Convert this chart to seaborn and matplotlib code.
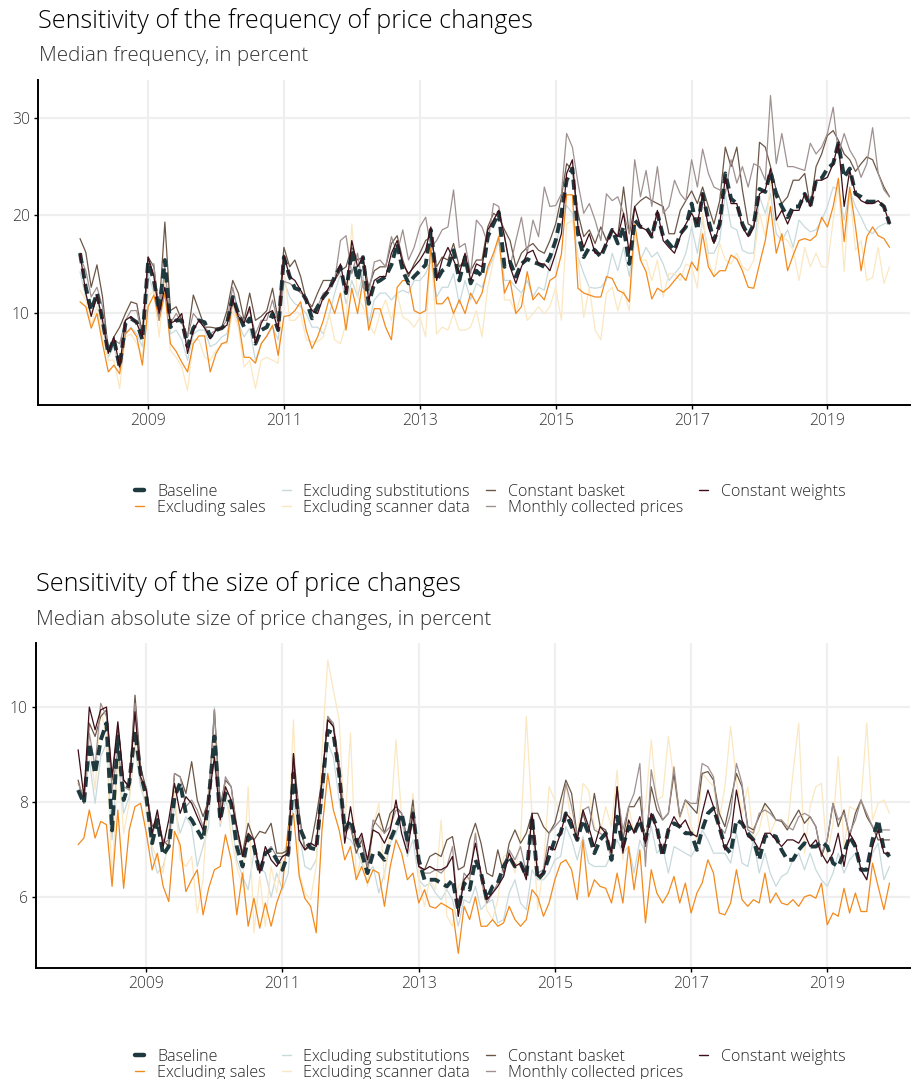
import pandas as pd
import matplotlib.pyplot as plt
import seaborn as sns
from matplotlib.lines import Line2D

# Thang: 2008-01 .. 2019-12
dates = pd.date_range("2008-01-01", periods=144, freq="MS")

series_names = ["Baseline", "Excluding sales", "Excluding substitutions",
                "Excluding scanner data", "Constant basket",
                "Monthly collected prices", "Constant weights"]

# ---- Tan suat thay doi gia (median, %) ----
freq_baseline = [
    16.1, 12.6, 10.2, 12.0, 9.2, 5.8, 7.3, 4.4, 8.9, 9.4, 9.0, 7.2,
    15.2, 13.3, 10.2, 15.4, 8.5, 9.2, 9.2, 6.5, 8.4, 9.2, 9.0, 7.5,
    8.2, 8.4, 8.9, 11.6, 9.9, 8.5, 9.4, 6.8, 8.2, 8.5, 9.9, 8.2,
    15.7, 13.7, 12.5, 12.3, 11.3, 9.4, 10.6, 11.6, 12.3, 13.7, 14.7, 12.0,
    16.4, 13.3, 15.7, 10.9, 13.0, 13.3, 13.7, 14.9, 17.1, 14.3, 13.0, 13.7,
    14.3, 14.9, 18.5, 13.3, 14.3, 14.7, 16.4, 13.3, 15.7, 13.0, 14.3, 13.7,
    17.8, 19.1, 20.3, 14.7, 15.2, 13.7, 15.0, 15.5, 15.2, 15.0, 14.7, 15.7,
    17.4, 20.2, 23.6, 24.8, 18.1, 15.7, 16.7, 16.4, 15.7, 17.1, 18.5, 17.1,
    18.8, 15.0, 19.5, 18.8, 18.8, 17.8, 20.2, 17.8, 17.1, 16.4, 18.1, 18.8,
    21.2, 18.5, 22.2, 19.5, 17.4, 19.1, 24.3, 21.7, 21.2, 19.1, 17.9, 19.1,
    22.7, 22.4, 24.5, 22.1, 20.9, 19.8, 20.9, 20.9, 22.2, 20.9, 23.6, 23.8,
    24.8, 25.3, 27.4, 23.9, 24.8, 22.2, 21.9, 21.4, 21.4, 21.4, 20.9, 19.1]
freq_sales = [
    11.1, 10.6, 8.4, 9.9, 6.8, 3.9, 4.6, 3.7, 7.8, 8.4, 7.5, 4.6,
    10.6, 11.8, 9.2, 12.0, 6.8, 6.0, 4.9, 3.9, 6.8, 7.6, 7.6, 3.9,
    5.8, 6.8, 7.0, 11.3, 9.2, 5.4, 5.4, 4.8, 6.8, 7.6, 8.7, 5.6,
    9.6, 9.7, 10.2, 11.1, 8.2, 6.3, 7.5, 9.2, 11.4, 9.9, 12.0, 8.2,
    12.5, 9.9, 13.3, 8.2, 10.4, 10.4, 8.5, 7.2, 12.6, 13.3, 13.3, 10.2,
    9.9, 10.2, 16.7, 10.9, 10.9, 11.6, 9.9, 11.3, 9.9, 12.0, 10.9, 12.0,
    14.7, 16.1, 17.8, 12.0, 13.3, 9.9, 10.6, 14.2, 11.3, 12.0, 11.3, 13.3,
    13.7, 16.0, 22.1, 22.1, 12.5, 12.0, 11.8, 11.6, 11.6, 13.7, 13.5, 12.3,
    12.0, 11.1, 19.1, 15.4, 14.2, 11.4, 12.5, 12.1, 12.6, 13.3, 14.0, 13.3,
    15.2, 14.3, 18.1, 14.7, 13.7, 14.3, 14.3, 15.9, 15.5, 14.3, 12.6, 12.5,
    15.0, 17.4, 20.9, 16.1, 18.1, 14.3, 15.9, 17.4, 17.6, 17.4, 17.9, 19.8,
    18.8, 20.9, 23.8, 17.3, 22.9, 18.8, 14.3, 17.8, 18.8, 17.9, 17.6, 16.7]
freq_subst = [
    14.2, 11.6, 9.9, 11.6, 8.5, 5.4, 6.5, 4.1, 7.8, 8.5, 7.8, 6.5,
    14.0, 12.0, 9.9, 13.7, 7.8, 8.2, 7.2, 5.1, 7.8, 8.2, 8.2, 6.5,
    6.8, 7.5, 7.8, 10.9, 8.9, 7.5, 8.4, 5.1, 6.8, 7.5, 8.5, 7.2,
    13.3, 11.6, 10.9, 10.6, 9.9, 8.5, 8.5, 7.8, 9.7, 12.0, 14.0, 10.9,
    13.3, 11.6, 14.0, 8.9, 11.3, 12.0, 12.0, 11.3, 12.0, 12.3, 12.0, 13.3,
    13.3, 14.0, 15.4, 11.6, 12.6, 12.6, 14.0, 10.9, 13.3, 11.3, 13.0, 12.6,
    14.3, 15.7, 17.4, 13.3, 13.3, 12.6, 12.0, 13.3, 11.6, 12.6, 12.3, 15.0,
    17.1, 19.1, 21.0, 20.2, 15.7, 14.0, 12.6, 12.5, 12.6, 13.3, 16.1, 14.3,
    16.7, 13.7, 18.1, 15.4, 16.7, 15.7, 16.2, 15.0, 13.3, 14.0, 14.7, 16.1,
    18.8, 16.1, 19.5, 16.1, 16.1, 17.4, 22.2, 18.8, 18.5, 16.4, 16.1, 16.1,
    21.9, 20.2, 22.2, 18.1, 17.4, 18.5, 16.7, 19.5, 18.8, 18.3, 18.5, 19.5,
    20.9, 22.9, 22.6, 19.5, 22.6, 20.9, 19.8, 18.5, 18.1, 18.8, 19.1, 19.3]
freq_scanner = [
    12.3, 11.3, 8.7, 10.6, 7.5, 5.1, 5.1, 2.2, 7.5, 7.8, 6.8, 5.4,
    11.6, 12.3, 7.5, 13.3, 6.1, 5.4, 4.4, 2.0, 7.2, 7.2, 5.4, 5.1,
    6.1, 6.8, 6.8, 10.2, 8.5, 4.4, 5.1, 2.2, 5.1, 5.4, 5.1, 4.8,
    14.7, 9.2, 9.2, 9.9, 7.2, 7.0, 7.0, 7.5, 9.9, 7.2, 6.8, 8.9,
    19.1, 11.6, 10.6, 8.9, 7.8, 9.9, 11.3, 9.2, 12.0, 9.5, 9.2, 8.5,
    9.5, 7.5, 16.7, 7.8, 8.5, 8.2, 9.9, 8.2, 8.2, 8.5, 10.2, 7.5,
    12.6, 15.4, 18.1, 11.3, 11.3, 9.9, 12.0, 9.2, 9.9, 10.6, 9.9, 10.6,
    12.6, 9.2, 19.1, 19.5, 15.4, 9.5, 12.6, 8.2, 7.2, 12.0, 12.6, 10.2,
    12.3, 10.2, 18.1, 15.4, 15.4, 13.3, 15.4, 11.6, 14.0, 14.0, 13.3, 15.0,
    14.7, 12.5, 20.2, 15.4, 13.7, 17.1, 15.4, 15.0, 16.1, 14.7, 14.3, 15.4,
    20.2, 17.8, 23.6, 19.5, 17.8, 17.4, 16.4, 13.3, 16.7, 14.7, 16.1, 14.7,
    14.7, 19.5, 23.3, 14.2, 22.6, 16.4, 17.4, 13.3, 13.6, 16.7, 13.0, 14.7]
freq_basket = [
    17.6, 16.2, 12.6, 14.9, 11.6, 6.1, 7.5, 8.5, 9.9, 11.1, 10.9, 7.8,
    15.7, 14.7, 10.2, 19.3, 10.2, 10.6, 9.2, 7.5, 11.8, 10.2, 8.5, 8.5,
    8.4, 8.5, 10.2, 13.3, 12.0, 9.2, 12.0, 9.2, 9.6, 10.2, 12.5, 9.2,
    16.7, 14.7, 15.4, 13.7, 11.3, 10.6, 12.0, 13.3, 13.3, 13.3, 14.3, 14.7,
    16.7, 15.4, 15.7, 12.6, 14.3, 14.7, 14.7, 17.1, 17.9, 15.4, 13.7, 15.0,
    16.1, 17.4, 17.8, 14.7, 15.7, 15.4, 17.1, 14.7, 15.4, 14.3, 15.4, 15.4,
    18.8, 20.2, 19.8, 18.5, 17.4, 14.7, 16.1, 16.7, 17.1, 16.4, 16.1, 17.4,
    19.1, 21.9, 25.3, 24.6, 20.2, 17.8, 18.5, 17.1, 18.8, 17.4, 18.5, 17.8,
    22.9, 18.1, 20.9, 21.5, 21.9, 21.5, 21.2, 20.9, 18.1, 18.1, 20.5, 21.5,
    22.5, 21.2, 22.9, 20.9, 19.1, 21.5, 27.0, 25.0, 27.0, 22.6, 19.1, 18.8,
    27.5, 27.0, 25.0, 22.6, 21.2, 21.9, 23.6, 23.6, 24.3, 20.9, 25.0, 26.3,
    28.2, 28.7, 27.7, 26.3, 25.7, 24.5, 25.3, 26.0, 25.7, 24.3, 22.9, 21.9]
freq_monthly = [
    15.7, 14.3, 11.6, 12.6, 10.6, 6.1, 7.2, 6.8, 9.2, 10.2, 10.2, 7.5,
    15.0, 15.0, 9.2, 14.7, 8.9, 9.9, 8.9, 7.5, 9.9, 9.2, 8.5, 7.8,
    8.2, 8.5, 9.2, 12.6, 9.9, 9.2, 10.2, 7.8, 9.2, 9.2, 11.3, 8.9,
    13.2, 13.0, 12.6, 12.0, 11.6, 10.2, 10.6, 12.0, 12.3, 13.3, 17.4, 17.9,
    14.0, 16.1, 12.6, 12.0, 15.2, 15.4, 14.7, 17.8, 16.1, 18.5, 15.4, 16.7,
    18.8, 19.8, 16.7, 17.4, 18.5, 18.8, 22.6, 16.7, 17.1, 14.0, 19.5, 18.8,
    17.1, 21.2, 20.9, 17.8, 14.7, 17.4, 19.8, 16.1, 19.5, 17.8, 22.9, 20.9,
    21.0, 22.2, 28.4, 27.0, 23.3, 20.2, 21.2, 19.5, 17.4, 22.2, 21.5, 21.9,
    20.2, 18.1, 25.7, 21.9, 24.6, 20.9, 25.0, 20.2, 20.9, 23.6, 22.2, 21.5,
    25.7, 22.9, 26.8, 24.3, 22.9, 22.6, 22.2, 25.7, 23.3, 25.0, 22.9, 25.3,
    25.0, 23.6, 32.3, 25.3, 28.4, 25.0, 25.0, 24.8, 24.6, 27.4, 26.3, 27.0,
    28.4, 31.1, 26.3, 28.4, 26.7, 25.7, 23.9, 25.3, 29.0, 24.3, 22.6, 21.9]
freq_weights = [
    16.1, 12.0, 9.6, 11.8, 9.2, 5.8, 7.5, 4.4, 9.2, 9.6, 8.9, 7.5,
    15.7, 13.7, 9.9, 12.6, 8.9, 9.2, 9.9, 5.8, 8.2, 9.2, 8.4, 7.3,
    8.2, 8.4, 8.7, 11.4, 9.6, 8.9, 10.6, 6.8, 8.9, 9.9, 10.2, 8.2,
    15.9, 13.7, 13.3, 12.3, 11.3, 10.2, 9.9, 11.6, 12.6, 13.3, 15.0, 12.0,
    17.4, 14.7, 15.7, 11.3, 13.3, 13.7, 13.7, 16.1, 17.4, 15.0, 14.0, 14.7,
    15.4, 16.4, 18.8, 13.3, 15.4, 16.7, 15.4, 14.0, 16.1, 13.3, 15.0, 14.7,
    18.5, 19.5, 20.5, 17.8, 14.7, 13.0, 14.7, 16.1, 16.4, 15.0, 15.0, 14.3,
    16.1, 18.1, 24.3, 25.7, 18.8, 16.7, 18.1, 16.1, 16.1, 17.1, 18.5, 17.8,
    20.2, 16.1, 20.9, 18.8, 18.5, 17.8, 20.5, 17.4, 16.7, 16.1, 17.8, 19.1,
    20.2, 19.1, 22.2, 18.8, 17.1, 19.1, 23.9, 21.2, 21.2, 18.8, 17.8, 18.8,
    22.2, 22.6, 24.8, 19.5, 20.5, 19.1, 20.5, 20.5, 22.2, 20.9, 23.6, 23.6,
    23.9, 25.3, 27.4, 20.9, 24.6, 22.2, 21.5, 21.2, 21.2, 21.5, 20.9, 19.1]

# ---- Do lon thay doi gia (median tuyet doi, %) ----
size_baseline = [
    8.25, 7.97, 9.24, 8.6, 9.3, 9.66, 7.4, 9.38, 8.04, 8.4, 9.5, 8.6,
    8.1, 7.13, 7.62, 6.88, 7.06, 8.1, 8.4, 7.76, 7.62, 7.41, 7.2, 8.04,
    9.38, 7.62, 8.18, 7.97, 7.06, 6.64, 7.27, 7.06, 6.5, 6.92, 6.99, 6.78,
    6.57, 6.92, 8.6, 7.48, 7.2, 7.03, 7.0, 8.25, 9.5, 9.45, 8.6, 7.41,
    7.62, 7.2, 6.92, 6.5, 6.92, 6.92, 6.78, 7.2, 7.48, 7.76, 7.2, 7.76,
    6.78, 6.36, 6.36, 6.36, 6.29, 6.22, 6.36, 5.73, 6.29, 6.15, 6.78, 6.5,
    5.94, 6.22, 6.29, 6.64, 6.85, 6.64, 6.71, 6.43, 7.69, 6.36, 6.5, 6.85,
    7.2, 7.34, 7.76, 7.48, 7.2, 7.62, 7.34, 6.92, 7.2, 7.34, 6.78, 7.69,
    7.06, 7.48, 7.34, 7.62, 7.2, 7.76, 7.48, 6.85, 7.41, 7.55, 7.48, 7.34,
    7.34, 6.99, 7.41, 7.76, 7.87, 7.48, 7.06, 6.92, 7.62, 7.55, 7.34, 7.2,
    6.78, 7.27, 7.31, 7.27, 6.99, 6.78, 6.78, 6.99, 7.13, 7.06, 7.06, 7.16,
    7.06, 6.71, 6.64, 6.92, 7.27, 7.06, 6.57, 6.57, 7.2, 7.62, 6.99, 6.85]
size_sales = [
    7.1, 7.24, 7.83, 7.24, 7.59, 7.52, 6.22, 7.83, 6.18, 7.41, 7.9, 7.97,
    7.34, 6.57, 6.92, 6.22, 5.9, 7.38, 7.1, 6.11, 6.36, 6.57, 5.62, 6.18,
    6.57, 6.64, 7.31, 6.78, 5.62, 6.5, 5.38, 5.97, 5.34, 5.87, 5.38, 5.87,
    6.22, 7.48, 7.76, 6.43, 5.97, 5.8, 5.24, 7.41, 8.6, 7.83, 7.41, 6.78,
    7.06, 6.36, 6.64, 6.29, 6.57, 6.5, 5.8, 6.64, 7.2, 6.92, 6.36, 6.5,
    5.87, 6.15, 5.8, 5.76, 5.87, 5.8, 5.73, 4.81, 5.8, 5.52, 6.0, 5.38,
    5.38, 5.52, 5.38, 5.45, 5.8, 5.52, 5.38, 5.52, 6.15, 6.0, 5.59, 5.87,
    6.36, 6.71, 6.78, 6.57, 5.94, 7.2, 6.0, 6.36, 6.22, 6.18, 5.87, 6.5,
    5.87, 7.06, 6.15, 6.99, 5.45, 6.57, 6.08, 5.87, 6.08, 6.43, 5.87, 6.29,
    5.66, 6.08, 6.29, 6.78, 6.5, 5.66, 5.62, 5.87, 6.57, 5.94, 5.8, 5.94,
    5.87, 6.5, 5.87, 6.08, 5.87, 5.83, 5.94, 5.8, 6.0, 6.04, 5.97, 6.29,
    5.41, 5.66, 5.59, 6.18, 5.66, 6.08, 5.69, 5.69, 6.71, 6.22, 5.73, 6.29]
size_subst = [
    8.25, 8.04, 8.88, 7.97, 8.95, 9.24, 7.2, 9.1, 7.76, 8.11, 9.17, 8.32,
    7.9, 6.92, 6.5, 6.64, 7.13, 7.9, 7.34, 7.69, 7.48, 6.64, 7.06, 7.48,
    10.0, 7.48, 8.04, 7.69, 6.78, 6.43, 6.15, 6.92, 6.64, 6.5, 5.99, 6.5,
    6.15, 6.5, 8.04, 7.34, 6.64, 6.57, 6.78, 7.97, 9.24, 8.95, 8.04, 7.27,
    7.2, 6.99, 6.71, 6.5, 6.64, 6.08, 6.5, 7.13, 7.34, 7.69, 6.85, 7.2,
    6.36, 6.22, 6.29, 6.08, 5.94, 6.15, 5.94, 5.38, 5.94, 5.87, 6.22, 5.73,
    5.87, 5.94, 5.45, 5.52, 6.08, 6.36, 5.87, 5.73, 6.57, 6.36, 6.36, 6.5,
    6.78, 6.85, 7.48, 7.2, 6.78, 7.27, 6.71, 6.64, 6.64, 6.64, 6.92, 7.2,
    6.92, 7.06, 6.5, 7.2, 6.92, 7.48, 6.92, 7.06, 6.5, 7.06, 6.99, 6.92,
    6.85, 7.06, 7.41, 7.2, 6.92, 6.92, 6.92, 6.71, 7.34, 6.71, 6.64, 7.2,
    6.5, 6.92, 6.5, 6.22, 6.43, 6.5, 6.78, 6.92, 6.57, 6.92, 6.57, 6.36,
    6.22, 6.5, 6.92, 6.5, 6.78, 6.92, 6.57, 6.36, 6.92, 7.13, 6.36, 6.64]
size_scanner = [
    8.46, 8.04, 9.31, 8.25, 9.94, 9.38, 6.29, 8.95, 7.34, 7.97, 9.24, 8.46,
    7.9, 7.06, 6.78, 6.5, 7.34, 8.25, 6.78, 6.64, 6.85, 5.66, 6.36, 8.32,
    9.38, 7.55, 8.39, 7.27, 6.64, 6.22, 8.32, 5.24, 6.43, 5.38, 6.64, 6.08,
    6.92, 7.13, 9.73, 6.5, 6.08, 5.94, 6.64, 9.1, 10.99, 10.36, 9.73, 7.41,
    9.45, 6.36, 6.92, 6.22, 7.48, 7.97, 6.36, 7.48, 9.31, 7.69, 7.2, 8.18,
    6.36, 5.8, 6.36, 6.15, 7.62, 5.59, 5.38, 6.22, 6.36, 6.36, 7.34, 6.36,
    5.73, 5.52, 5.94, 6.85, 6.92, 6.5, 7.2, 9.8, 7.69, 5.73, 6.64, 8.32,
    8.04, 7.76, 8.39, 7.48, 7.2, 8.39, 8.25, 7.48, 7.34, 7.9, 7.48, 8.67,
    6.78, 7.9, 7.34, 7.62, 7.9, 9.31, 8.04, 8.11, 9.38, 8.46, 7.62, 8.04,
    7.48, 7.2, 8.6, 8.46, 8.32, 7.62, 8.32, 9.59, 8.46, 7.76, 8.32, 7.2,
    7.41, 7.97, 7.34, 7.62, 7.62, 7.41, 8.6, 9.66, 6.92, 7.9, 8.32, 8.39,
    6.85, 7.55, 8.95, 7.06, 7.9, 7.83, 7.97, 9.66, 7.62, 7.97, 8.04, 7.76]
size_basket = [
    8.46, 7.97, 9.66, 9.38, 9.8, 9.94, 8.46, 9.59, 8.46, 8.32, 10.25, 8.74,
    8.25, 7.48, 7.62, 7.2, 7.06, 8.6, 8.53, 8.18, 8.85, 8.04, 7.69, 8.04,
    9.94, 7.9, 8.46, 8.32, 7.48, 6.92, 7.55, 7.2, 7.38, 7.34, 7.55, 6.92,
    6.92, 6.99, 9.02, 7.76, 6.99, 7.06, 7.69, 8.46, 9.8, 9.59, 8.81, 7.41,
    7.48, 6.92, 7.2, 6.57, 7.48, 7.76, 7.34, 7.76, 7.9, 7.76, 7.2, 8.04,
    6.64, 6.57, 6.85, 6.92, 6.85, 7.2, 7.27, 6.57, 6.64, 7.2, 7.55, 7.13,
    6.5, 6.43, 6.99, 6.5, 7.13, 7.41, 7.13, 7.34, 7.76, 7.76, 7.48, 7.34,
    7.55, 8.04, 8.46, 8.18, 7.27, 7.76, 7.34, 8.18, 7.48, 7.41, 6.85, 8.32,
    7.2, 7.9, 7.9, 8.11, 7.06, 8.32, 7.83, 7.62, 7.76, 8.6, 7.69, 8.04,
    7.9, 7.76, 8.6, 8.64, 8.46, 7.76, 7.48, 8.04, 8.6, 8.32, 7.48, 7.41,
    7.69, 7.97, 7.83, 7.62, 7.59, 7.41, 7.62, 7.83, 7.55, 7.69, 7.48, 6.85,
    7.2, 7.97, 7.48, 7.83, 7.27, 7.76, 8.04, 7.69, 7.48, 7.2, 7.2, 7.2]
size_monthly = [
    8.39, 8.11, 9.45, 8.74, 10.08, 9.8, 8.25, 9.1, 8.32, 8.25, 10.08, 8.46,
    8.32, 7.27, 7.76, 7.13, 7.2, 8.6, 8.53, 7.9, 8.04, 7.83, 7.48, 7.97,
    9.94, 7.69, 8.53, 8.32, 7.34, 6.85, 7.27, 7.2, 6.57, 6.92, 7.06, 6.85,
    6.85, 6.92, 8.88, 7.62, 7.06, 7.13, 7.06, 8.39, 9.8, 9.66, 8.74, 7.34,
    7.48, 7.06, 7.27, 6.64, 7.62, 7.48, 7.34, 7.48, 7.83, 7.76, 7.06, 7.9,
    6.64, 6.5, 6.5, 6.57, 6.5, 6.64, 7.06, 5.59, 6.5, 6.36, 7.34, 6.36,
    5.87, 6.08, 6.29, 6.43, 6.99, 6.78, 7.06, 6.5, 7.76, 6.5, 6.57, 7.34,
    7.48, 7.62, 8.39, 7.9, 7.27, 7.83, 7.9, 7.41, 7.34, 7.27, 6.78, 8.25,
    7.41, 7.9, 8.18, 8.81, 6.64, 8.68, 8.04, 7.62, 7.76, 8.74, 7.69, 8.04,
    7.97, 7.97, 8.81, 8.74, 8.53, 7.48, 7.34, 7.76, 8.81, 8.39, 7.41, 7.34,
    7.76, 7.83, 7.76, 7.62, 7.62, 7.48, 7.41, 7.69, 7.76, 7.69, 7.48, 6.92,
    7.2, 7.97, 7.62, 7.76, 7.34, 7.62, 8.04, 7.76, 7.48, 7.41, 7.41, 7.41]
size_weights = [
    9.1, 8.11, 10.0, 9.52, 9.94, 10.0, 8.53, 9.69, 8.46, 8.32, 9.9, 8.53,
    8.25, 7.34, 7.83, 7.06, 7.62, 8.39, 7.76, 8.11, 7.97, 7.69, 7.41, 8.04,
    8.95, 7.62, 8.32, 8.04, 7.48, 6.85, 7.34, 7.2, 6.5, 7.06, 6.78, 6.64,
    6.85, 6.92, 9.02, 7.2, 6.99, 7.13, 7.06, 8.46, 9.73, 9.59, 8.6, 7.13,
    7.9, 7.13, 7.34, 6.78, 7.41, 7.34, 7.13, 7.41, 8.04, 7.34, 6.92, 7.76,
    6.64, 6.57, 6.64, 6.57, 6.57, 6.64, 6.85, 5.59, 6.36, 6.5, 7.13, 6.5,
    5.94, 6.08, 6.22, 6.43, 6.92, 6.64, 6.71, 6.36, 7.76, 6.43, 6.5, 7.06,
    6.99, 7.34, 7.76, 7.62, 7.2, 7.83, 7.48, 7.06, 7.48, 7.34, 6.92, 8.32,
    6.92, 7.62, 7.34, 7.69, 7.13, 7.76, 7.41, 6.92, 7.41, 7.69, 7.48, 7.62,
    7.34, 7.27, 7.76, 8.25, 7.9, 7.48, 6.99, 7.27, 8.25, 7.62, 7.27, 7.2,
    6.99, 7.34, 7.34, 7.2, 7.06, 7.2, 7.2, 7.13, 7.34, 7.06, 7.2, 6.92,
    6.71, 6.92, 7.34, 6.64, 7.34, 7.13, 6.57, 6.36, 7.06, 7.41, 6.92, 6.92]

colors = {
    "Baseline": "#1f3a3e",
    "Excluding sales": "#f28a1e",
    "Excluding substitutions": "#c8dadd",
    "Excluding scanner data": "#fbe8c2",
    "Constant basket": "#6b5747",
    "Monthly collected prices": "#a09191",
    "Constant weights": "#3e0e18",
}

freq_data = [freq_baseline, freq_sales, freq_subst, freq_scanner,
             freq_basket, freq_monthly, freq_weights]
size_data = [size_baseline, size_sales, size_subst, size_scanner,
             size_basket, size_monthly, size_weights]
for s in freq_data + size_data:
    assert len(s) == 144, len(s)

sns.set_theme(style="white")
plt.rcParams["font.family"] = ["Open Sans", "DejaVu Sans"]
plt.rcParams["font.weight"] = "light"

fig = plt.figure(figsize=(9.22, 10.79), dpi=100)
ax1 = fig.add_axes([38 / 922, 1 - 405 / 1079, 872 / 922, 325 / 1079])
ax2 = fig.add_axes([36 / 922, 1 - 968 / 1079, 874 / 922, 325 / 1079])


def draw_panel(ax, data, ylim, yticks):
    order = [2, 3, 1, 4, 5, 0, 6]  # thu tu ve (lop tren cung cuoi cung)
    for i in order:
        name = series_names[i]
        if name == "Baseline":
            sns.lineplot(x=dates, y=data[i], ax=ax, color=colors[name],
                         linewidth=2.8, linestyle=(0, (2.6, 1.4)), zorder=3)
        else:
            sns.lineplot(x=dates, y=data[i], ax=ax, color=colors[name],
                         linewidth=0.9, zorder=2 if name != "Constant weights" else 4)
    ax.set_xlim(pd.Timestamp("2007-05-20"), pd.Timestamp("2020-03-20"))
    ax.set_ylim(*ylim)
    ax.set_yticks(yticks)
    ax.set_xticks(pd.to_datetime([f"{y}-01-01" for y in range(2009, 2020, 2)]))
    ax.set_xticklabels([str(y) for y in range(2009, 2020, 2)])
    ax.set_xlabel("")
    ax.set_ylabel("")
    ax.grid(True, color="#efefef", linewidth=1.6)
    ax.set_axisbelow(True)
    for side in ["top", "right"]:
        ax.spines[side].set_visible(False)
    for side in ["left", "bottom"]:
        ax.spines[side].set_color("black")
        ax.spines[side].set_linewidth(1.4)
    ax.tick_params(axis="both", which="major", length=3, width=1.0,
                   color="black", labelsize=11.3, labelcolor="#333333",
                   left=True, bottom=True, pad=3)


draw_panel(ax1, freq_data, (0.5, 33.9), [10, 20, 30])
draw_panel(ax2, size_data, (4.5, 11.35), [6, 8, 10])

# Tieu de
fig.text(38 / 922, 1 - 21 / 1079, "Sensitivity of the frequency of price changes",
         fontsize=18.1, va="center", ha="left", color="black")
fig.text(39 / 922, 1 - 56 / 1079, "Median frequency, in percent",
         fontsize=14.8, va="center", ha="left", color="#333333")
fig.text(36 / 922, 1 - 584 / 1079, "Sensitivity of the size of price changes",
         fontsize=18.1, va="center", ha="left", color="black")
fig.text(36 / 922, 1 - 620 / 1079, "Median absolute size of price changes, in percent",
         fontsize=14.8, va="center", ha="left", color="#333333")

# Chu giai
handles = []
for name in series_names:
    if name == "Baseline":
        handles.append(Line2D([], [], color=colors[name], linewidth=3.2))
    else:
        handles.append(Line2D([], [], color=colors[name], linewidth=1.0))

for ycen in [500, 1065]:
    fig.legend(handles, series_names, ncol=4, loc="center",
               bbox_to_anchor=(0.532, 1 - ycen / 1079), frameon=False,
               fontsize=11.6, handlelength=0.55, handletextpad=0.8,
               columnspacing=1.0, labelspacing=0.0, borderpad=0)

fig.savefig("out.png", dpi=100)
